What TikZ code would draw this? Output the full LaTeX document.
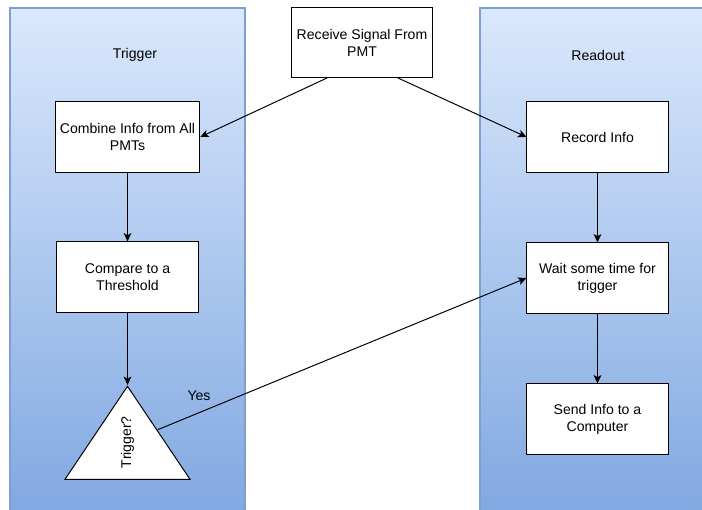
\documentclass[tikz,border=0pt]{standalone}
\usepackage{fontspec}
\setmainfont{Liberation Sans}
\usetikzlibrary{shapes.geometric,arrows.meta}
\definecolor{lanetop}{HTML}{DAE8FC}
\definecolor{lanebottom}{HTML}{7EA6E0}
\definecolor{laneedge}{HTML}{7F9FD3}

\begin{document}
\begin{tikzpicture}[x=0.025cm, y=-0.025cm, line width=0.7pt, >={Stealth[length=6pt,width=5.5pt,inset=1.5pt]},
    font=\fontsize{10}{12}\selectfont,
    lane/.style={draw=laneedge, line width=1.2pt, top color=lanetop, bottom color=lanebottom},
    box/.style={rectangle, draw, fill=white, align=center, minimum width=3.525cm, minimum height=1.75cm},
    decision/.style={isosceles triangle, shape border rotate=90, isosceles triangle stretches, draw, fill=white, inner sep=0pt, minimum width=3.125cm, minimum height=2.325cm}]
    \useasboundingbox (0,0) rectangle (702,510);
    \draw[lane] (10,8) rectangle (245,530);
    \draw[lane] (480,8) rectangle (720,530);
    \node (trigger) at (135,55) {Trigger};
    \node (readout) at (598,55) {Readout};
    \node[box] (receive) at (362,42.5) {Receive Signal From\\PMT};
    \node[box] (combine) at (127.5,137) {Combine Info from All\\PMTs};
    \node[box] (compare) at (127.5,277) {Compare to a\\Threshold};
    \node[decision, anchor=apex] (decide) at (127.5,385) {\rotatebox{90}{Trigger?}};
    \node[box] (record) at (597.5,137) {Record Info};
    \node[box] (wait) at (597.5,278) {Wait some time for\\trigger};
    \node[box] (send) at (597.5,419) {Send Info to a\\Computer};
    \node (yes) at (199,396) {Yes};
    \draw[->] ([xshift=-0.875cm]receive.south) -- (combine.east);
    \draw[->] ([xshift=0.9cm]receive.south) -- (record.west);
    \draw[->] (combine) -- (compare);
    \draw[->] (compare) -- (decide.apex);
    \draw[->] (record) -- (wait);
    \draw[->] (wait) -- (send);
    \draw[->] (decide) -- (wait.west);
\end{tikzpicture}
\end{document}
